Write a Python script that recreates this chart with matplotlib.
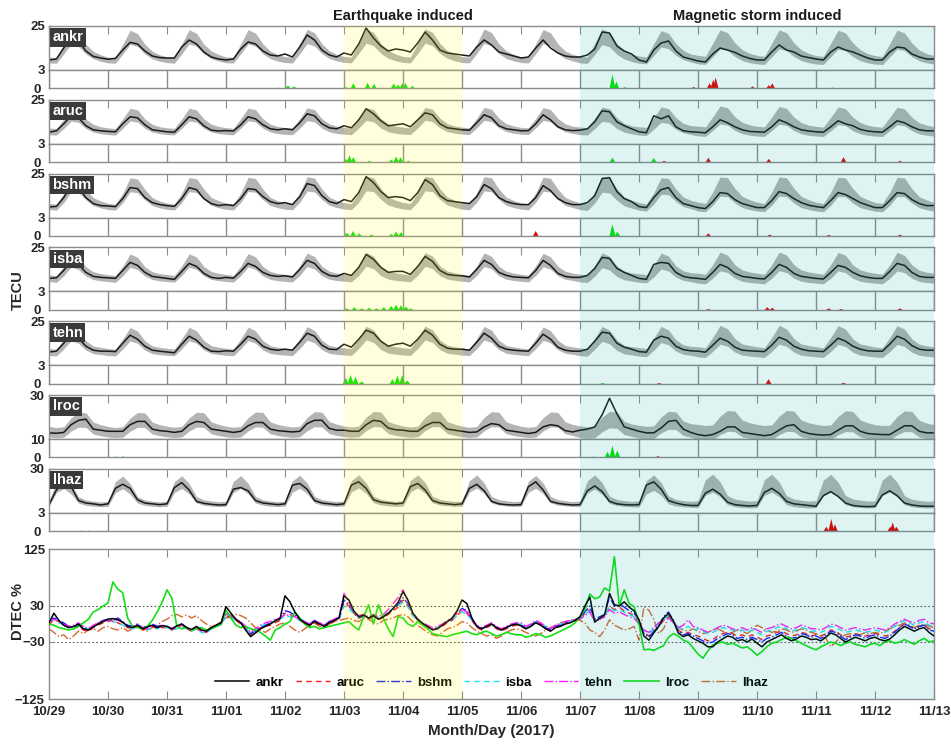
"""TEC anomalies at seven GNSS stations, 29 Oct - 13 Nov 2017, with DTEC summary panel."""

import numpy as np
import matplotlib
matplotlib.use("Agg")
import matplotlib.pyplot as plt
from matplotlib.patches import Rectangle

plt.rcParams["font.family"] = ["Liberation Sans", "DejaVu Sans"]
plt.rcParams["font.weight"] = "bold"

# ---------------------------------------------------------------- data
stations = ["ankr", "aruc", "bshm", "isba", "tehn", "lroc", "lhaz"]
day_labels = ["10/29", "10/30", "10/31", "11/01", "11/02", "11/03", "11/04", "11/05",
              "11/06", "11/07", "11/08", "11/09", "11/10", "11/11", "11/12", "11/13"]
eq_days = (5, 7)        # 11/03 - 11/05
storm_days = (9, 15)    # 11/07 - 11/13

tec_hours = np.arange(0, 361, 3)    # 3-hourly TEC samples (UT hours since 10/29)
dtec_hours = np.arange(0, 361, 2)   # 2-hourly DTEC samples

tec_ylim = {"ankr": (3, 25), "aruc": (3, 25), "bshm": (3, 25), "isba": (3, 25),
            "tehn": (3, 25), "lroc": (10, 30), "lhaz": (3, 30)}

# half width of the grey bound band, fraction of the median, one value per day
band_frac = [0.18, 0.18, 0.18, 0.18, 0.18, 0.18, 0.18, 0.18, 0.18,
             0.20, 0.22, 0.26, 0.26, 0.26, 0.26]

# observed TEC (TECU), UT 0,3,...,21 per day
ankr_tec = [
    8.0, 8.5, 14.0, 18.5, 17.5, 12.5, 9.8, 9.0,
    8.4, 8.8, 13.0, 16.8, 16.0, 12.5, 10.0, 9.2,
    9.0, 9.0, 14.5, 18.0, 16.0, 12.0, 9.5, 8.5,
    8.0, 8.5, 13.5, 17.0, 16.0, 12.5, 10.5, 10.0,
    11.0, 9.5, 14.5, 20.5, 18.0, 13.0, 10.5, 9.5,
    11.5, 10.5, 16.0, 24.0, 19.0, 15.0, 12.5, 13.5,
    13.0, 12.0, 16.5, 22.0, 18.0, 13.0, 11.5, 11.0,
    10.5, 10.0, 14.5, 18.0, 15.5, 12.0, 11.0, 10.0,
    9.0, 9.5, 14.0, 18.0, 14.0, 11.5, 10.0, 9.5,
    9.5, 10.5, 13.5, 22.0, 21.5, 15.0, 12.5, 11.0,
    8.0, 7.0, 13.0, 16.5, 17.5, 12.5, 9.5, 8.5,
    7.5, 7.0, 11.0, 14.0, 13.0, 11.8, 10.0, 8.8,
    8.0, 8.0, 12.0, 15.5, 13.0, 12.0, 10.0, 9.2,
    8.5, 8.0, 12.0, 14.5, 13.0, 12.0, 10.5, 9.0,
    8.0, 8.0, 12.0, 14.5, 14.0, 11.0, 9.5, 8.5,
    8.5,
]
aruc_tec = [
    8.8, 9.5, 13.0, 17.0, 16.0, 12.0, 10.0, 9.5,
    9.2, 9.0, 13.0, 16.5, 16.0, 12.5, 10.0, 9.5,
    9.0, 8.8, 12.5, 16.5, 15.5, 12.0, 9.8, 9.4,
    9.6, 9.4, 12.5, 16.5, 15.5, 12.5, 10.5, 10.0,
    10.5, 10.0, 13.5, 18.0, 17.0, 13.0, 11.0, 10.5,
    12.0, 11.0, 15.0, 20.5, 18.0, 14.5, 12.0, 12.5,
    13.0, 11.5, 15.0, 18.5, 17.5, 13.0, 11.0, 10.5,
    10.0, 9.8, 13.5, 17.5, 16.0, 12.0, 10.5, 10.0,
    9.5, 9.6, 13.0, 17.5, 15.0, 11.5, 10.0, 9.6,
    9.8, 10.5, 14.0, 19.5, 19.0, 14.0, 12.0, 10.5,
    9.0, 8.5, 17.0, 15.5, 17.0, 11.5, 9.5, 9.0,
    8.8, 8.5, 11.5, 15.0, 13.5, 11.5, 10.0, 9.2,
    9.0, 8.8, 11.5, 15.0, 13.5, 11.5, 10.0, 9.4,
    9.0, 8.8, 11.5, 14.5, 13.0, 12.0, 10.2, 9.4,
    9.0, 8.8, 11.5, 14.5, 13.5, 11.5, 10.0, 9.5,
    9.5,
]
bshm_tec = [
    8.3, 8.6, 13.0, 19.0, 18.0, 13.0, 10.0, 9.0,
    8.8, 8.5, 12.5, 18.0, 17.5, 13.0, 10.5, 9.5,
    9.0, 8.6, 12.5, 18.0, 17.0, 12.5, 10.0, 9.0,
    9.5, 9.0, 12.5, 17.5, 17.0, 13.5, 11.0, 10.0,
    10.5, 9.5, 13.5, 20.0, 19.0, 14.0, 11.0, 10.0,
    12.0, 11.0, 15.5, 23.5, 20.5, 16.0, 13.0, 13.5,
    13.0, 11.5, 15.5, 22.0, 19.5, 14.0, 11.5, 11.0,
    10.5, 10.0, 13.5, 19.5, 17.5, 13.0, 11.0, 10.0,
    9.5, 9.5, 13.0, 19.0, 16.5, 12.5, 10.5, 9.5,
    9.5, 10.5, 14.0, 22.5, 23.0, 16.0, 12.5, 11.0,
    8.5, 8.0, 13.0, 17.0, 18.0, 13.0, 10.0, 9.0,
    8.0, 7.5, 11.0, 15.5, 15.0, 12.0, 10.0, 9.0,
    8.0, 8.0, 11.5, 16.0, 15.0, 12.5, 10.5, 9.2,
    8.5, 8.0, 11.5, 15.5, 14.5, 12.5, 10.5, 9.2,
    8.0, 8.0, 11.5, 15.5, 15.0, 12.0, 10.0, 9.0,
    9.0,
]
isba_tec = [
    9.5, 9.8, 13.5, 18.0, 16.5, 12.5, 10.5, 10.0,
    9.8, 9.5, 13.5, 17.5, 16.0, 12.5, 10.5, 10.0,
    9.5, 9.0, 13.0, 17.0, 15.5, 12.0, 10.0, 9.5,
    10.0, 9.6, 13.0, 17.0, 15.5, 12.5, 11.0, 10.5,
    10.8, 10.2, 14.0, 18.5, 17.0, 13.0, 11.0, 10.5,
    12.0, 11.0, 15.0, 21.5, 19.0, 15.0, 12.5, 13.0,
    13.0, 11.5, 15.5, 20.5, 18.0, 13.5, 11.5, 11.0,
    10.8, 10.2, 14.0, 18.5, 16.5, 12.5, 11.0, 10.2,
    10.0, 9.8, 13.5, 18.5, 16.0, 12.0, 10.5, 10.0,
    10.0, 11.0, 14.5, 20.0, 19.5, 14.5, 12.5, 11.0,
    9.5, 9.0, 16.5, 17.5, 17.0, 12.5, 10.5, 9.8,
    9.5, 9.0, 12.5, 16.5, 15.0, 12.0, 10.5, 10.0,
    9.5, 9.2, 12.5, 16.5, 15.0, 12.0, 10.5, 10.0,
    9.5, 9.2, 12.5, 16.0, 15.0, 12.5, 10.8, 10.0,
    9.5, 9.5, 13.0, 17.0, 16.0, 12.5, 10.5, 10.0,
    10.0,
]
tehn_tec = [
    9.6, 10.0, 14.0, 18.0, 16.5, 12.5, 10.5, 10.0,
    10.0, 9.8, 14.0, 18.0, 16.0, 12.5, 10.5, 10.0,
    9.6, 9.2, 13.5, 17.5, 15.5, 12.0, 10.0, 9.8,
    10.2, 10.0, 13.5, 17.5, 16.0, 12.5, 11.0, 10.5,
    11.0, 10.5, 14.5, 19.0, 17.5, 13.0, 11.0, 10.8,
    13.5, 12.0, 16.0, 20.5, 19.0, 15.0, 12.5, 13.5,
    14.0, 12.5, 16.0, 20.5, 18.0, 13.5, 11.5, 11.0,
    11.0, 10.5, 14.5, 19.0, 16.5, 12.5, 11.0, 10.5,
    10.2, 10.0, 14.0, 18.5, 16.0, 12.0, 10.5, 10.0,
    10.0, 11.0, 15.0, 19.5, 19.0, 14.0, 12.0, 11.0,
    9.8, 9.5, 15.5, 17.5, 16.5, 12.5, 10.8, 10.2,
    10.0, 9.5, 13.0, 16.5, 15.0, 12.0, 10.5, 10.2,
    10.0, 9.8, 13.0, 17.0, 15.5, 12.5, 11.0, 10.2,
    10.0, 9.8, 13.0, 16.5, 15.0, 12.5, 11.0, 10.2,
    10.0, 10.0, 13.5, 17.5, 16.0, 12.8, 11.0, 10.5,
    10.5,
]
lroc_tec = [
    12.8, 12.6, 13.0, 16.5, 18.5, 19.0, 14.5, 14.0,
    13.5, 13.5, 13.5, 16.5, 18.0, 18.0, 14.5, 13.8,
    13.5, 13.0, 13.5, 16.5, 18.0, 17.5, 14.5, 14.0,
    13.5, 13.0, 13.5, 16.0, 17.5, 17.5, 14.5, 13.8,
    13.5, 13.2, 13.5, 17.0, 18.5, 18.5, 14.8, 14.0,
    14.0, 13.5, 13.5, 16.5, 18.5, 18.0, 15.0, 14.2,
    14.0, 13.5, 13.5, 16.0, 17.5, 17.5, 14.5, 14.0,
    13.5, 13.0, 13.2, 15.5, 17.0, 16.5, 14.0, 13.5,
    13.0, 12.5, 13.0, 15.5, 16.5, 16.0, 13.8, 13.2,
    14.0, 14.5, 15.5, 21.0, 28.5, 21.5, 15.5, 14.5,
    13.5, 12.8, 12.8, 15.0, 18.0, 18.5, 14.5, 13.0,
    12.0, 11.5, 12.0, 13.5, 15.5, 15.5, 13.0, 12.5,
    12.0, 11.5, 12.0, 14.0, 16.0, 16.5, 13.5, 12.5,
    12.0, 11.8, 12.0, 14.0, 16.0, 16.0, 13.5, 12.5,
    12.2, 12.0, 12.0, 14.0, 16.0, 16.0, 13.5, 12.8,
    12.8,
]
lhaz_tec = [
    8.0, 17.0, 21.0, 19.0, 10.5, 9.0, 8.5, 7.8,
    8.5, 18.0, 20.5, 18.0, 11.0, 9.0, 8.5, 8.0,
    8.5, 18.5, 21.5, 17.0, 10.0, 8.8, 8.2, 7.8,
    8.0, 17.5, 18.5, 16.5, 10.5, 9.0, 8.5, 8.0,
    8.5, 20.0, 21.0, 17.5, 10.5, 9.0, 8.5, 8.0,
    8.5, 20.0, 22.0, 18.0, 11.0, 9.5, 9.0, 8.5,
    9.0, 19.0, 21.0, 17.0, 10.5, 9.0, 8.5, 8.0,
    8.5, 18.0, 20.5, 16.5, 10.0, 8.5, 8.0, 7.8,
    8.0, 19.0, 22.0, 17.0, 10.0, 8.8, 8.2, 7.8,
    8.0, 16.5, 19.5, 16.0, 10.0, 8.5, 8.0, 7.8,
    8.0, 20.0, 22.0, 17.5, 10.5, 9.0, 8.0, 7.5,
    7.5, 15.0, 17.5, 14.5, 9.5, 8.0, 7.5, 7.2,
    7.5, 15.5, 18.0, 15.0, 10.0, 8.5, 8.0, 7.5,
    7.0, 13.5, 16.0, 13.0, 9.0, 7.5, 7.0, 6.8,
    7.0, 14.0, 16.5, 13.5, 9.0, 7.8, 7.2, 7.0,
    7.0,
]

# median TEC (centre of the grey band), same sampling
ankr_med = [
    8.0, 7.8, 13.5, 19.5, 18.0, 13.5, 10.5, 9.0,
    8.0, 7.8, 13.4, 19.4, 18.0, 13.5, 10.5, 9.0,
    8.1, 7.8, 13.5, 19.6, 18.1, 13.5, 10.6, 9.1,
    8.1, 7.9, 13.6, 19.6, 18.2, 13.6, 10.6, 9.1,
    8.2, 7.9, 13.6, 19.8, 18.3, 13.7, 10.7, 9.2,
    8.3, 8.0, 13.8, 20.0, 18.5, 13.8, 10.8, 9.3,
    8.3, 8.0, 13.8, 20.0, 18.5, 13.8, 10.8, 9.3,
    8.2, 8.0, 13.7, 19.9, 18.4, 13.7, 10.7, 9.2,
    8.2, 7.9, 13.6, 19.7, 18.3, 13.6, 10.6, 9.2,
    8.2, 7.9, 13.6, 19.6, 18.2, 13.6, 10.6, 9.1,
    8.2, 7.8, 13.2, 18.6, 17.5, 13.3, 10.5, 9.0,
    8.2, 7.8, 13.0, 18.3, 17.2, 13.2, 10.4, 9.0,
    8.2, 7.8, 13.0, 18.3, 17.2, 13.2, 10.4, 9.0,
    8.1, 7.8, 13.0, 18.2, 17.1, 13.1, 10.4, 8.9,
    8.1, 7.7, 12.9, 18.2, 17.1, 13.1, 10.3, 8.9,
    8.1,
]
aruc_med = [
    9.2, 9.0, 13.0, 17.5, 16.8, 13.0, 10.8, 9.8,
    9.3, 9.0, 13.1, 17.6, 16.9, 13.1, 10.8, 9.8,
    9.3, 9.1, 13.1, 17.6, 16.9, 13.1, 10.9, 9.9,
    9.4, 9.1, 13.2, 17.7, 17.0, 13.2, 10.9, 9.9,
    9.4, 9.2, 13.2, 17.8, 17.0, 13.2, 11.0, 10.0,
    9.5, 9.2, 13.3, 17.9, 17.1, 13.3, 11.0, 10.0,
    9.6, 9.3, 13.4, 18.0, 17.2, 13.4, 11.1, 10.1,
    9.6, 9.3, 13.4, 18.0, 17.2, 13.4, 11.1, 10.1,
    9.5, 9.3, 13.3, 17.9, 17.1, 13.3, 11.0, 10.0,
    9.5, 9.2, 13.3, 17.8, 17.1, 13.3, 11.0, 10.0,
    9.4, 9.2, 13.2, 17.6, 16.9, 13.2, 10.9, 9.9,
    9.4, 9.1, 13.1, 17.4, 16.7, 13.1, 10.9, 9.9,
    9.3, 9.1, 13.0, 17.2, 16.5, 13.0, 10.8, 9.8,
    9.3, 9.0, 12.9, 17.0, 16.3, 12.9, 10.8, 9.8,
    9.2, 9.0, 12.9, 16.9, 16.2, 12.9, 10.7, 9.8,
    9.2,
]
bshm_med = [
    8.6, 8.2, 12.8, 19.5, 19.0, 14.5, 11.0, 9.6,
    8.6, 8.2, 12.8, 19.4, 18.9, 14.5, 11.0, 9.6,
    8.7, 8.3, 12.9, 19.5, 19.0, 14.6, 11.1, 9.7,
    8.7, 8.3, 12.9, 19.6, 19.1, 14.6, 11.1, 9.7,
    8.8, 8.4, 13.0, 19.8, 19.3, 14.7, 11.2, 9.8,
    8.9, 8.5, 13.1, 20.0, 19.5, 14.8, 11.3, 9.9,
    8.9, 8.5, 13.1, 20.0, 19.5, 14.8, 11.3, 9.9,
    8.8, 8.4, 13.0, 19.9, 19.4, 14.7, 11.2, 9.8,
    8.8, 8.4, 13.0, 19.7, 19.2, 14.6, 11.1, 9.8,
    8.7, 8.3, 12.9, 19.6, 19.1, 14.6, 11.1, 9.7,
    8.6, 8.1, 12.6, 18.8, 18.5, 14.2, 10.9, 9.6,
    8.5, 8.0, 12.5, 18.5, 18.2, 14.0, 10.8, 9.5,
    8.5, 8.0, 12.5, 18.5, 18.2, 14.0, 10.8, 9.5,
    8.5, 8.0, 12.4, 18.4, 18.1, 13.9, 10.8, 9.5,
    8.4, 8.0, 12.4, 18.4, 18.1, 13.9, 10.7, 9.4,
    8.4,
]
isba_med = [
    9.6, 9.2, 13.2, 18.5, 17.0, 13.0, 10.9, 10.1,
    9.6, 9.2, 13.2, 18.4, 17.0, 13.0, 10.9, 10.1,
    9.7, 9.3, 13.3, 18.5, 17.1, 13.1, 11.0, 10.2,
    9.7, 9.3, 13.3, 18.6, 17.1, 13.1, 11.0, 10.2,
    9.8, 9.4, 13.4, 18.8, 17.3, 13.2, 11.1, 10.3,
    9.9, 9.5, 13.5, 19.0, 17.5, 13.3, 11.2, 10.4,
    9.9, 9.5, 13.5, 19.0, 17.5, 13.3, 11.2, 10.4,
    9.8, 9.4, 13.4, 18.9, 17.4, 13.2, 11.1, 10.3,
    9.8, 9.4, 13.4, 18.7, 17.2, 13.2, 11.1, 10.3,
    9.7, 9.3, 13.3, 18.6, 17.1, 13.1, 11.0, 10.2,
    9.7, 9.3, 13.1, 18.2, 16.9, 13.0, 10.9, 10.1,
    9.6, 9.2, 13.0, 18.0, 16.8, 13.0, 10.9, 10.1,
    9.6, 9.2, 13.0, 18.0, 16.8, 13.0, 10.9, 10.1,
    9.6, 9.2, 13.0, 17.9, 16.7, 12.9, 10.9, 10.1,
    9.6, 9.2, 12.9, 17.9, 16.7, 12.9, 10.8, 10.0,
    9.6,
]
tehn_med = [
    9.6, 9.3, 13.6, 18.6, 17.0, 12.9, 10.7, 10.1,
    9.6, 9.3, 13.6, 18.5, 17.0, 12.9, 10.7, 10.1,
    9.7, 9.4, 13.7, 18.6, 17.1, 13.0, 10.8, 10.2,
    9.7, 9.4, 13.7, 18.7, 17.1, 13.0, 10.8, 10.2,
    9.8, 9.5, 13.8, 18.9, 17.3, 13.1, 10.9, 10.3,
    9.9, 9.6, 13.9, 19.1, 17.5, 13.2, 11.0, 10.4,
    9.9, 9.6, 13.9, 19.1, 17.5, 13.2, 11.0, 10.4,
    9.8, 9.5, 13.8, 19.0, 17.4, 13.1, 10.9, 10.3,
    9.8, 9.5, 13.8, 18.8, 17.2, 13.1, 10.9, 10.3,
    9.7, 9.4, 13.7, 18.7, 17.1, 13.0, 10.8, 10.2,
    9.7, 9.3, 13.5, 18.4, 16.9, 12.9, 10.8, 10.2,
    9.7, 9.3, 13.4, 18.2, 16.8, 12.9, 10.8, 10.2,
    9.7, 9.3, 13.4, 18.2, 16.8, 12.9, 10.8, 10.2,
    9.7, 9.3, 13.4, 18.1, 16.7, 12.8, 10.8, 10.2,
    9.6, 9.3, 13.3, 18.1, 16.7, 12.8, 10.7, 10.1,
    9.6,
]
lroc_med = [
    13.3, 12.9, 13.2, 16.6, 18.8, 18.6, 15.0, 14.0,
    13.3, 12.9, 13.2, 16.5, 18.7, 18.5, 15.0, 14.0,
    13.4, 13.0, 13.3, 16.6, 18.8, 18.6, 15.1, 14.1,
    13.4, 13.0, 13.3, 16.7, 18.9, 18.7, 15.1, 14.1,
    13.5, 13.1, 13.4, 16.8, 19.0, 18.8, 15.2, 14.2,
    13.5, 13.1, 13.4, 16.9, 19.1, 18.9, 15.2, 14.2,
    13.5, 13.1, 13.4, 16.9, 19.1, 18.9, 15.2, 14.2,
    13.4, 13.0, 13.3, 16.8, 19.0, 18.8, 15.1, 14.1,
    13.4, 13.0, 13.3, 16.7, 18.9, 18.7, 15.1, 14.1,
    13.3, 12.9, 13.2, 16.6, 18.8, 18.6, 15.0, 14.0,
    13.3, 12.9, 13.1, 16.4, 18.5, 18.3, 14.9, 13.9,
    13.2, 12.8, 13.0, 16.2, 18.2, 18.0, 14.8, 13.8,
    13.2, 12.8, 13.0, 16.2, 18.2, 18.0, 14.8, 13.8,
    13.2, 12.8, 13.0, 16.1, 18.1, 17.9, 14.8, 13.8,
    13.1, 12.8, 12.9, 16.1, 18.1, 17.9, 14.7, 13.7,
    13.1,
]
lhaz_med = [
    8.4, 18.8, 21.8, 17.8, 10.9, 9.2, 8.6, 8.2,
    8.4, 18.7, 21.7, 17.7, 10.9, 9.2, 8.6, 8.2,
    8.5, 18.8, 21.8, 17.8, 11.0, 9.3, 8.7, 8.3,
    8.5, 18.9, 21.9, 17.9, 11.0, 9.3, 8.7, 8.3,
    8.6, 19.1, 22.1, 18.0, 11.1, 9.4, 8.8, 8.4,
    8.7, 19.3, 22.3, 18.2, 11.2, 9.5, 8.9, 8.5,
    8.7, 19.3, 22.3, 18.2, 11.2, 9.5, 8.9, 8.5,
    8.6, 19.2, 22.2, 18.1, 11.1, 9.4, 8.8, 8.4,
    8.6, 19.0, 22.0, 18.0, 11.1, 9.4, 8.8, 8.4,
    8.5, 18.9, 21.9, 17.9, 11.0, 9.3, 8.7, 8.3,
    8.4, 18.7, 21.5, 17.6, 10.9, 9.2, 8.6, 8.2,
    8.3, 18.5, 21.2, 17.4, 10.8, 9.1, 8.5, 8.1,
    8.3, 18.5, 21.2, 17.4, 10.8, 9.1, 8.5, 8.1,
    8.3, 18.4, 21.1, 17.3, 10.8, 9.1, 8.5, 8.1,
    8.2, 18.4, 21.1, 17.3, 10.7, 9.0, 8.4, 8.0,
    8.2,
]

# DTEC (%), UT 0,2,...,22 per day
ankr_dtec = [
    2, 18, 6, -2, -6, -4, 0, -8, -10, -5, 0, 4,
    8, 9, 7, 3, -4, -6, -2, -8, -5, -2, -6, -3,
    -4, -8, -3, 0, -6, -9, -4, -10, -12, -6, -2, 2,
    29, 18, 8, 2, -10, -21, -15, -8, -4, 0, 5, 9,
    47, 37, 20, 8, 2, -2, 4, 0, -4, 2, 6, 10,
    47, 40, 22, 12, 15, 10, 14, 8, 12, 18, 26, 36,
    54, 40, 18, 8, 1, -4, -10, -8, -2, 4, 10, 22,
    40, 34, 10, -4, -8, -4, 0, -6, -10, -6, -2, 0,
    -3, -8, -4, 2, -2, -8, -12, -6, -4, 0, 2, 6,
    12, 30, 45, 3, 10, 15, 51, 32, 30, 37, 28, 22,
    7, -20, -27, -15, -4, 10, 18, 5, -15, -21, -18, -24,
    -28, -32, -38, -38, -30, -25, -20, -22, -28, -26, -30, -25,
    -32, -38, -30, -26, -22, -18, -24, -28, -25, -20, -22, -26,
    -25, -28, -22, -15, -18, -24, -30, -26, -22, -25, -28, -24,
    -22, -26, -28, -25, -18, -10, -4, -8, -12, -8, -6, -14,
    -20,
]
aruc_dtec = [
    -2, 8, 4, 0, -6, -8, -4, -10, -12, -6, -2, 2,
    4, 6, 2, -2, -6, -8, -4, -10, -8, -4, -8, -6,
    -6, -10, -6, -2, -8, -12, -8, -12, -14, -8, -4, 0,
    14, 10, 6, 0, -8, -18, -12, -6, -4, -2, 2, 6,
    18, 16, 12, 6, 0, -4, 2, -2, -6, 0, 4, 8,
    36, 30, 18, 10, 12, 8, 12, 8, 10, 16, 22, 28,
    40, 30, 14, 6, -2, -6, -10, -6, -4, 2, 6, 14,
    22, 18, 6, -6, -10, -6, -2, -8, -12, -8, -4, -2,
    -4, -8, -2, 4, 0, -6, -10, -4, -2, 2, 4, 6,
    8, 18, 24, 6, 8, 12, 30, 24, 28, 22, 18, 14,
    4, -14, -20, -12, -4, 6, 14, 4, -10, -16, -14, -18,
    -20, -24, -28, -26, -20, -16, -14, -16, -20, -18, -22, -18,
    -22, -26, -20, -18, -14, -12, -16, -20, -18, -14, -16, -20,
    -18, -20, -16, -10, -12, -18, -22, -20, -16, -18, -20, -18,
    -16, -18, -20, -18, -12, -6, 0, -4, -8, -4, -2, -8,
    -10,
]
bshm_dtec = [
    4, 10, 6, 2, -4, -6, -2, -8, -10, -4, 2, 6,
    8, 6, 10, 4, -2, -4, 0, -6, -4, 0, -4, -2,
    -4, -8, -4, 0, -6, -10, -6, -10, -12, -6, -4, 0,
    18, 14, 8, 2, -8, -16, -12, -6, -2, 2, 6, 10,
    22, 20, 14, 8, 4, 0, 6, 2, -2, 4, 8, 10,
    40, 32, 18, 10, 14, 10, 14, 10, 12, 18, 24, 32,
    44, 34, 16, 6, 0, -4, -8, -6, -2, 4, 8, 18,
    26, 22, 8, -4, -8, -4, 0, -6, -10, -6, -2, 0,
    -2, -6, -2, 4, 0, -6, -10, -4, -2, 2, 4, 6,
    10, 20, 30, 8, 12, 16, 45, 30, 34, 28, 22, 18,
    6, -16, -22, -12, -2, 12, 20, 6, -12, -18, -16, -20,
    -24, -28, -32, -30, -24, -20, -16, -18, -24, -22, -26, -22,
    -26, -30, -24, -22, -18, -14, -20, -24, -22, -16, -18, -22,
    -20, -24, -18, -12, -14, -20, -26, -22, -18, -20, -24, -20,
    -18, -22, -24, -20, -14, -6, 0, -4, -8, -4, -2, -10,
    -12,
]
isba_dtec = [
    8, 6, 2, -2, -6, -4, 0, -6, -8, -4, 0, 4,
    6, 4, 2, -2, -6, -8, -2, -8, -10, -6, -8, -4,
    -6, -10, -8, -4, -8, -12, -8, -14, -16, -8, -4, -2,
    12, 10, 6, 2, -6, -16, -10, -4, 0, 2, 6, 8,
    14, 12, 10, 6, 2, -2, 4, 0, -4, 2, 6, 8,
    30, 26, 16, 12, 14, 10, 14, 10, 14, 20, 26, 30,
    36, 28, 14, 6, 0, -4, -8, -6, -2, 4, 8, 14,
    20, 16, 6, -4, -8, -4, 0, -6, -10, -6, -2, 0,
    0, -6, -2, 4, 2, -4, -8, -2, 0, 2, 4, 8,
    10, 16, 22, 6, 10, 14, 28, 22, 24, 20, 16, 12,
    2, -10, -16, -8, 0, 8, 14, 4, -6, -8, -4, -10,
    -8, -12, -16, -14, -10, -6, -8, -10, -12, -10, -14, -10,
    -14, -18, -12, -10, -6, -4, -8, -12, -10, -6, -8, -12,
    -12, -14, -10, -4, -6, -10, -14, -12, -10, -12, -14, -12,
    -10, -12, -14, -10, -4, 2, 6, 2, -2, 2, 4, -2,
    -4,
]
tehn_dtec = [
    6, 8, 4, 0, -4, -2, 2, -4, -8, -2, 2, 6,
    6, 4, 8, 2, -4, -6, 0, -6, -8, -4, -6, -2,
    -4, -8, -6, -2, -6, -10, -6, -12, -14, -6, -2, 0,
    16, 14, 8, 4, -4, -14, -8, -2, 2, 4, 8, 10,
    16, 14, 12, 8, 4, 0, 6, 2, -2, 4, 8, 12,
    51, 36, 20, 14, 16, 12, 16, 12, 16, 24, 34, 44,
    57, 38, 18, 8, 2, -2, -6, -4, 0, 6, 10, 18,
    24, 20, 8, -2, -6, -2, 2, -4, -8, -4, 0, 2,
    2, -4, 0, 6, 2, -4, -8, -2, 0, 4, 6, 8,
    8, 14, 20, 4, 8, 12, 24, 18, 20, 16, 12, 10,
    0, -10, -14, -6, 2, 6, 10, 2, -6, -2, 7, -4,
    -6, -10, -14, -10, -6, -2, -4, -8, -10, -6, -10, -6,
    -10, -14, -8, -6, -2, 0, -4, -8, -6, -2, -4, -8,
    -8, -10, -6, 0, -2, -6, -10, -8, -6, -8, -10, -8,
    -6, -8, -10, -6, 0, 4, 8, 4, 2, 6, 8, 2,
    0,
]
lroc_dtec = [
    0, -2, -6, -8, -10, -8, -4, 2, 8, 20, 24, 30,
    35, 70, 58, 52, 10, -4, -6, -8, -4, 6, 20, 36,
    57, 43, -4, -8, -6, -10, -8, -6, -10, -8, -4, 0,
    23, 10, -2, -6, -4, -8, -10, -14, -20, -27, -10, -6,
    0, 4, 20, 10, 0, -6, -4, -8, -6, -4, -2, 0,
    2, 4, -4, -10, 12, 32, 0, 32, 10, -8, -21, 12,
    10, 0, -4, 4, -2, -8, -16, -18, -20, -21, -18, -16,
    -14, -12, -16, -18, -14, -12, -16, -20, -18, -14, -16, -18,
    -18, -22, -20, -16, -18, -22, -20, -16, -12, -8, -4, 2,
    12, 25, 50, 42, 45, 60, 55, 112, 30, 57, 34, 29,
    0, -43, -42, -44, -40, -36, -22, -16, -20, -27, -30, -40,
    -50, -57, -45, -35, -32, -30, -34, -32, -36, -40, -38, -44,
    -52, -46, -38, -32, -30, -26, -22, -24, -28, -32, -36, -40,
    -43, -38, -34, -30, -32, -36, -32, -30, -34, -36, -38, -34,
    -32, -36, -30, -28, -32, -30, -26, -30, -34, -28, -24, -30,
    -28,
]
lhaz_dtec = [
    -8, -14, -21, -18, -26, -20, -12, -16, -10, -8, -12, -6,
    -4, -8, -10, -6, -12, -8, -4, -10, -12, -6, -2, 4,
    8, 14, 16, 12, 15, 10, 14, 6, 0, -4, -2, 4,
    10, 12, 16, 14, 10, 2, -6, -10, -14, -8, -4, 0,
    2, -4, -10, -14, -8, -2, 2, -4, -6, 0, 4, 6,
    8, 10, 6, 4, 10, 8, 2, 0, 6, 8, 10, 14,
    16, 12, 4, -2, -8, -14, -18, -20, -14, -8, -6, -2,
    4, 2, -6, -12, -16, -20, -18, -24, -20, -14, -10, -8,
    -10, -14, -18, -20, -16, -10, -6, -2, 2, 4, 6, 8,
    6, 2, -10, -14, -21, -10, 7, -2, -6, -10, -8, -4,
    -27, 29, 23, 8, -16, -8, 12, 4, -6, -10, -12, -8,
    -12, -16, -14, -10, -8, -12, -16, -14, -10, -12, -16, -10,
    -2, -6, -10, -14, -12, -8, -10, -14, -12, -8, -10, -14,
    -16, -20, -24, -38, -30, -22, -18, -16, -20, -18, -14, -16,
    -14, -16, -12, -8, -4, -2, 2, -2, -6, -2, 0, -4,
    -6,
]

# anomalies (hour since 10/29 00UT, TECU): above upper bound / below lower bound
ankr_pos = [(93, 0.2), (97, 0.55), (99.5, 0.4), (120.5, 0.3), (123.6, 0.9), (129.4, 1.0),
            (132, 0.8), (140, 0.9), (141.8, 0.7), (143.5, 0.9), (144.8, 0.95), (147.6, 0.5),
            (219, 0.15), (229, 2.35), (230.6, 1.2), (234, 0.3)]
ankr_neg = [(199, 0.1), (244.6, 0.15), (262, 0.3), (268.5, 0.9), (270, 1.5), (271, 1.85),
            (286, 0.4), (292.6, 0.6), (294, 0.9), (318.5, 0.2)]
aruc_pos = [(120.5, 0.6), (122, 1.15), (123.6, 0.9), (130, 0.3), (139, 0.5), (141, 1.0),
            (142.8, 0.9), (146, 0.3), (229, 0.8), (245.8, 0.75)]
aruc_neg = [(250, 0.3), (268, 0.8), (292.6, 0.6), (323, 0.9), (346, 0.3)]
bshm_pos = [(121, 0.6), (123.5, 0.9), (126, 0.5), (131, 0.3), (139, 0.4), (141, 0.8),
            (143, 0.7), (229, 2.0), (231, 0.8)]
bshm_neg = [(197.8, 0.9), (268, 0.5), (293, 0.3), (317, 0.25), (346, 0.3)]
isba_pos = [(121, 0.3), (124, 0.5), (127, 0.3), (130, 0.4), (133, 0.3), (136, 0.5),
            (139, 0.7), (141, 0.9), (143, 0.8), (145, 0.6), (147, 0.3)]
isba_neg = [(268, 0.2), (292, 0.5), (294, 0.4), (317, 0.3), (322, 0.2), (346, 0.3)]
tehn_pos = [(120.5, 1.0), (122.5, 1.5), (124.5, 1.2), (127, 0.4), (139.5, 0.8), (141.5, 1.4),
            (143.5, 1.5), (145.5, 0.6), (225, 0.15)]
tehn_neg = [(248, 0.15), (292.5, 0.8), (323, 0.2)]
lroc_pos = [(27, 0.2), (30, 0.25), (221, 0.2), (227, 1.0), (229, 2.0), (231, 1.2)]
lroc_neg = [(247.5, 0.3), (266, 0.15)]
lhaz_pos = []
lhaz_neg = [(13, 0.15), (16, 0.15), (19, 0.12), (82.5, 0.12), (316, 0.8), (318, 2.1),
            (319.5, 1.2), (342, 0.8), (343, 1.5), (344.5, 0.8)]

tec = {"ankr": ankr_tec, "aruc": aruc_tec, "bshm": bshm_tec, "isba": isba_tec,
       "tehn": tehn_tec, "lroc": lroc_tec, "lhaz": lhaz_tec}
med = {"ankr": ankr_med, "aruc": aruc_med, "bshm": bshm_med, "isba": isba_med,
       "tehn": tehn_med, "lroc": lroc_med, "lhaz": lhaz_med}
dtec = {"ankr": ankr_dtec, "aruc": aruc_dtec, "bshm": bshm_dtec, "isba": isba_dtec,
        "tehn": tehn_dtec, "lroc": lroc_dtec, "lhaz": lhaz_dtec}
pos = {"ankr": ankr_pos, "aruc": aruc_pos, "bshm": bshm_pos, "isba": isba_pos,
       "tehn": tehn_pos, "lroc": lroc_pos, "lhaz": lhaz_pos}
neg = {"ankr": ankr_neg, "aruc": aruc_neg, "bshm": bshm_neg, "isba": isba_neg,
       "tehn": tehn_neg, "lroc": lroc_neg, "lhaz": lhaz_neg}

# ---------------------------------------------------------------- style
W, H = 951, 744
X0, X1 = 49, 934
PANEL_TOPS = [26, 99.8, 173.6, 247.4, 321.2, 395, 468.8]
UP_H, LO_H = 44, 18.3
DTEC_TOP, DTEC_BOT = 549, 699
EDGE = "#8c8c8c"
TXT = "#262626"
BAND = "#b4b4b4"
LINE_STYLE = {
    "ankr": dict(color="black", ls="-", lw=1.1, zorder=4),
    "aruc": dict(color="#ff1a1a", ls=(0, (4, 3)), lw=1.0, zorder=3),
    "bshm": dict(color="#1a1aff", ls="-.", lw=1.0, zorder=3),
    "isba": dict(color="#19e6f0", ls=(0, (4, 3)), lw=1.0, zorder=3),
    "tehn": dict(color="#ff1aff", ls="-.", lw=1.0, zorder=3),
    "lroc": dict(color="#14e014", ls="-", lw=1.2, zorder=3.5),
    "lhaz": dict(color="#d4692f", ls="-.", lw=1.0, zorder=2),
}
SPIKE_HALF = 1.2  # hours

fig = plt.figure(figsize=(W / 100, H / 100), dpi=100)


def px_axes(left, top, right, bottom):
    return fig.add_axes([left / W, 1 - bottom / H, (right - left) / W, (bottom - top) / H])


def frame(ax):
    for s in ax.spines.values():
        s.set_color(EDGE)
        s.set_linewidth(1.0)
    ax.set_xlim(0, 15)
    ax.set_xticks(np.arange(16))
    ax.tick_params(colors=EDGE, labelcolor=TXT, labelsize=9.5, direction="in")


t_tec = tec_hours / 24
t_dtec = dtec_hours / 24
frac = np.append(np.repeat(band_frac, 8), band_frac[-1])

for i, st in enumerate(stations):
    assert len(tec[st]) == len(tec_hours) and len(med[st]) == len(tec_hours)
    top = PANEL_TOPS[i]
    ax_up = px_axes(X0, top, X1, top + UP_H)
    ax_lo = px_axes(X0, top + UP_H, X1, top + UP_H + LO_H)
    m = np.array(med[st])
    ax_up.fill_between(t_tec, m * (1 - frac), m * (1 + frac), color=BAND, lw=0)
    ax_up.plot(t_tec, tec[st], color="#1a1a1a", lw=1.1)
    lo, hi = tec_ylim[st]
    frame(ax_up)
    ax_up.set_ylim(lo, hi)
    ax_up.set_yticks([lo, hi])
    ax_up.tick_params(axis="x", top=True, bottom=False, labelbottom=False, length=6)
    ax_up.tick_params(axis="y", length=3, pad=3)
    ax_up.text(0.004, 0.9, st, transform=ax_up.transAxes, ha="left", va="top",
               color="white", fontsize=10.5, fontweight="bold", zorder=6,
               bbox=dict(boxstyle="square,pad=0.15", fc="#3a3a3a", ec="none"))

    for events, colour in ((pos[st], "#00e600"), (neg[st], "#e60000")):
        for h, v in events:
            ax_lo.fill_between(np.array([h - SPIKE_HALF, h, h + SPIKE_HALF]) / 24,
                               0, [0, v, 0], color=colour, lw=0)
    frame(ax_lo)
    ax_lo.set_ylim(0, 3)
    ax_lo.set_yticks([0])
    ax_lo.tick_params(axis="x", length=0, labelbottom=False)
    ax_lo.tick_params(axis="y", length=0, pad=6)
    ax_lo.grid(True, axis="x", color=EDGE, lw=1.0)

# DTEC panel
ax_d = px_axes(X0, DTEC_TOP, X1, DTEC_BOT)
for st in stations:
    assert len(dtec[st]) == len(dtec_hours)
    ax_d.plot(t_dtec, dtec[st], label=st, **LINE_STYLE[st])
for yv in (30, -30):
    ax_d.axhline(yv, color="#555555", lw=0.8, ls=(0, (1.5, 2)), zorder=1)
frame(ax_d)
ax_d.set_ylim(-125, 125)
ax_d.set_yticks([-125, -30, 30, 125])
ax_d.set_xticklabels(day_labels)
ax_d.tick_params(axis="x", top=True, length=6, pad=5)
ax_d.tick_params(axis="y", length=3, pad=3)
ax_d.legend(loc="center", bbox_to_anchor=(0.5, 0.107), ncol=7, frameon=False,
            fontsize=9.5, handlelength=2.6, handletextpad=0.5, columnspacing=0.9)

# shaded event windows, drawn over every panel and the gaps between them
for (d0, d1), colour, alpha in ((eq_days, "#ffff00", 0.13), (storm_days, "#00a0a0", 0.12)):
    xa = X0 + (X1 - X0) * d0 / 15
    xb = X0 + (X1 - X0) * d1 / 15
    fig.add_artist(Rectangle((xa / W, 1 - DTEC_BOT / H), (xb - xa) / W,
                             (DTEC_BOT - PANEL_TOPS[0]) / H, transform=fig.transFigure,
                             fc=colour, alpha=alpha, ec="none", zorder=10))

fig.text((X0 + (X1 - X0) * 6 / 15) / W, 1 - 16 / H, "Earthquake induced",
         ha="center", va="center", fontsize=10.5, fontweight="bold", color="#1a1a1a")
fig.text((X0 + (X1 - X0) * 12 / 15) / W, 1 - 16 / H, "Magnetic storm induced",
         ha="center", va="center", fontsize=10.5, fontweight="bold", color="#1a1a1a")
fig.text(18 / W, 1 - 290 / H, "TECU", rotation=90, ha="center", va="center",
         fontsize=10.5, fontweight="bold", color=TXT)
fig.text(18 / W, 1 - 611 / H, "DTEC %", rotation=90, ha="center", va="center",
         fontsize=10.5, fontweight="bold", color=TXT)
fig.text(491 / W, 1 - 731 / H, "Month/Day (2017)", ha="center", va="center",
         fontsize=11, fontweight="bold", color=TXT)

fig.savefig("out.png", dpi=100)
